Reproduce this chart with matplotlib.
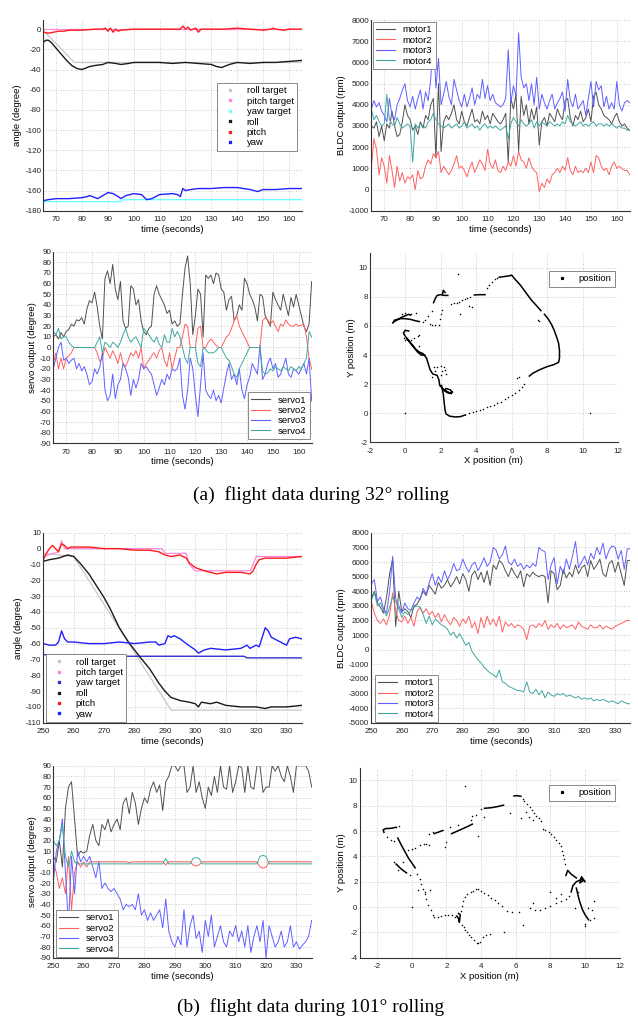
import numpy as np
import matplotlib
matplotlib.use("Agg")
from matplotlib import pyplot as plt
from matplotlib.lines import Line2D

plt.rcParams['font.family'] = ['Liberation Sans', 'DejaVu Sans']
plt.rcParams['axes.unicode_minus'] = False
nan = np.nan

#============== (a) 32 deg rolling ==============
# angle (degree)
roll_a_t = [65, 66, 67, 68, 70, 72, 74, 76, 78, 80, 81, 83, 85, 88, 90, 93, 95, 98, 100, 105,
            110, 115, 120, 125, 130, 132, 134, 135, 137, 140, 145, 150, 155, 160, 165]
roll_a = [-13, -11, -11, -13, -19, -25, -31, -36, -39, -40, -39, -37, -36, -35, -33, -34, -35, -34, -33, -33,
          -33, -34, -33, -34, -35, -37, -38, -37, -35, -33, -34, -33, -33, -32, -31]
roll_target_a_t = [65, 66, 77, 165]
roll_target_a = [-2, -4, -33, -33]
pitch_a_t = [65, 67, 69, 71, 73, 75, 78, 80, 85, 88, 89, 90, 91, 92, 93, 94, 95, 100, 105, 110,
             115, 118, 119, 120, 121, 122, 124, 125, 126, 130, 135, 140, 145, 150, 153, 154, 155, 158, 160, 165]
pitch_a = [-3, -4, -3, -2, -2, -1, -1, -1, 0, 0, 1, -2, 1, -3, 0, -2, -1, 0, 0, 0,
           0, 0, 3, 0, 2, -1, 1, -3, 0, 0, 0, 1, 0, -1, 0, 1, 0, -1, 0, 0]
pitch_target_a_t = [65, 165]
pitch_target_a = [0, 0]
yaw_a_t = [65, 67, 70, 75, 80, 82, 83, 85, 86, 88, 90, 92, 94, 95, 97, 100, 103, 105, 107, 110,
           115, 117, 118, 119, 120, 122, 125, 130, 135, 140, 145, 148, 150, 155, 160, 165]
yaw_a = [-170, -169, -168, -168, -167, -166, -165, -167, -168, -165, -162, -163, -166, -168, -165, -163, -164, -169, -168, -164,
         -163, -164, -166, -158, -160, -159, -158, -158, -157, -157, -159, -161, -159, -159, -158, -158]
yaw_target_a_t = [65, 95, 96, 165]
yaw_target_a = [-171, -171, -169, -169]

# BLDC output (rpm), one value per second 65..165
t_a = np.arange(65, 166)
motor1_a = [3000, 2900, 3200, 2500, 3000, 2300, 3100, 2900, 3700, 3000,
            2500, 2600, 3200, 4000, 3500, 3300, 2800, 3000, 2600, 3200,
            2900, 3500, 3300, 4000, 4300, 1500, 5000, 1800, 3200, 3500,
            3300, 3600, 4000, 3300, 3100, 3700, 3200, 3000, 3400, 3800,
            3200, 3300, 3100, 3700, 3300, 3500, 3100, 3600, 3400, 3200,
            3100, 3300, 3600, 1300, 4300, 3800, 4500, 1800, 4400, 3500,
            4000, 3100, 3800, 3300, 3900, 2100, 3200, 3400, 3000, 3600,
            3400, 3200, 3800, 3500, 3300, 4200, 4300, 3400, 3000, 3500,
            3300, 3700, 3200, 3400, 3800, 3200, 4400, 4600, 4000, 3800,
            3500, 3400, 3300, 3100, 3400, 3600, 3200, 3000, 3100, 2900,
            2800]
motor2_a = [1000, 2400, 1900, 700, 1500, 1100, 300, 1600, 900, 100,
            1100, 400, 800, 300, 600, 500, 700, 0, 900, 500,
            600, 1100, 1400, 1200, 1700, 1500, 1800, 800, 1100, 900,
            700, 900, 1200, 1600, 1000, 1100, 900, 600, 1000, 1300,
            800, 1100, 1400, 1200, 900, 1900, 1200, 1000, 1400, 900,
            800, 1100, 900, 1300, 1100, 1600, 1100, 1800, 1400, 1300,
            1000, 1500, 1100, 900, 800, -100, 300, 100, 500, 300,
            700, 800, 1000, 800, 1100, 900, 1500, 900, 700, 1100,
            800, 900, 800, 1000, 800, 1300, 800, 1600, 1500, 1100,
            900, 1000, 700, 1100, 1300, 1000, 1100, 1000, 900, 900,
            700]
motor3_a = [3800, 4200, 3900, 4100, 3700, 3500, 3200, 4300, 3500, 3300,
            4000, 4300, 4700, 5000, 4200, 3900, 4400, 3800, 4300, 4700,
            3800, 4600, 4200, 5200, 7400, 4800, 6200, 4000, 4500, 5100,
            4400, 4000, 5200, 4700, 4200, 3900, 4500, 3900, 4300, 4800,
            4000, 4500, 4300, 5200, 4300, 4900, 4200, 4500, 4100, 4000,
            3900, 4000, 4300, 6600, 4100, 4900, 4400, 7400, 5300, 4800,
            5000, 4200, 5000, 4000, 5300, 3800, 4500, 4100, 3800, 4200,
            4500, 3800, 4100, 4300, 4600, 3700, 5200, 4200, 3900, 4500,
            3800, 4000, 4200, 3500, 4300, 5100, 3900, 5100, 4700, 4900,
            3900, 4400, 3800, 4100, 3800, 5100, 4000, 3700, 4100, 4200,
            4100]
motor4_a = [3800, 3300, 3500, 3200, 3000, 3100, 4500, 3300, 3100, 3000,
            3400, 3100, 2900, 3000, 3100, 3000, 1300, 3100, 2900, 3100,
            3000, 2900, 3200, 3300, 3600, 3300, 3100, 3000, 2900, 3000,
            3100, 2900, 3000, 3100, 2900, 3000, 3200, 2900, 3000, 3100,
            2900, 3000, 2800, 3000, 3100, 2900, 3000, 2900, 3000, 2900,
            2800, 2900, 3000, 2400, 3100, 3400, 3200, 3000, 3300, 3100,
            3000, 3100, 3300, 2900, 3200, 3000, 3200, 3100, 3000, 3200,
            3100, 3000, 3100, 3000, 3200, 3100, 3500, 3200, 3100, 3000,
            3100, 3200, 3000, 3100, 3000, 3100, 3200, 3000, 3100, 3100,
            3000, 3100, 3000, 3100, 3000, 2900, 3000, 2900, 2900, 2800,
            2800]

# servo output (degree)
servo1_a = [10, 12, 8, 14, 10, 15, 17, 22, 20, 26,
            25, 28, 22, 36, 44, 42, 52, 38, 20, 8,
            65, 72, 60, 78, 55, 45, 62, 25, 18, 20,
            58, 55, 40, 45, 25, 15, 12, 18, 20, 50,
            58, 50, 45, 40, 32, 35, 22, 25, 20, 22,
            50, 75, 86, 60, 12, 30, 55, 50, 10, 68,
            65, 68, 60, 70, 68, 55, 52, 35, 45, 48,
            25, 30, 40, 35, 65, 60, 50, 45, 38, 25,
            50, 48, 30, 25, 20, 52, 45, 40, 35, 50,
            40, 30, 47, 38, 50, 40, 30, 20, 15, 22,
            62]
servo2_a = [-15, -5, -20, -10, -20, -10, -8, -5, 0, 0,
            0, 0, 0, 0, 0, 0, 0, -5, -13, -10,
            0, -5, -10, -3, -8, -15, -5, -15, -18, -12,
            -5, -8, -3, -10, 0, -20, -15, -12, -8, -5,
            -10, -3, 0, -12, -18, -5, -20, -10, 0, 0,
            10, 22, 20, 0, 0, 0, 18, 20, 0, 0,
            5, 8, 5, 2, 0, 0, 5, 10, 12, 18,
            25, 30, 20, 15, 10, 5, 0, 0, 0, 0,
            0, 25, 28, 26, 22, 25, 20, 15, 22, 20,
            26, 22, 20, 20, 22, 20, 21, 22, 10, -10,
            -20]
servo3_a = [-20, -10, 0, 5, -12, -10, -15, -12, -10, -20,
            -15, -22, -18, -25, -35, -32, -20, -25, -18, -5,
            -40, -50, -45, -25, -48, -35, -30, -15, -20, -28,
            -45, -30, -38, -30, -15, -20, -18, -22, -25, -35,
            -45, -38, -30, -35, -25, -30, -20, -22, -20, -10,
            -45, -58, -40, -10, -20, -45, -65, -35, -5, -40,
            -45, -48, -40, -50, -45, -52, -38, -25, -15, -30,
            -25, -35, -20, -40, -48, -35, -28, -15, -20, -25,
            2, -30, -25, -15, -10, -20, -15, -28, -25, -18,
            -10, -25, -28, -20, -22, -25, -20, -15, -25, -10,
            -50]
servo4_a = [15, 12, 18, 8, 10, 10, 5, 2, 0, 0,
            0, 0, 0, 0, 0, 0, 0, 5, 10, -5,
            5, 3, 0, 5, 3, 0, 5, 12, 18, 10,
            5, 8, 10, 5, 0, 18, 15, 12, 8, 5,
            10, 3, 0, 12, 5, 5, 18, 10, 15, 10,
            0, -10, -15, 0, 0, 0, -15, -18, 0, -2,
            -5, -5, -5, -3, 0, 0, -5, -10, -12, -18,
            -25, -28, -20, -15, -10, -5, 0, 0, 0, 0,
            0, -22, -25, -24, -20, -22, -18, -20, -22, -18,
            -20, -22, -18, -20, -22, -18, -20, -15, -10, 15,
            10]

# position (m): dense tracks (nan = gap) and single points
track_a_x = [2.05, 2.15, 2.2, 2.25, 2.3, 2.5, 2.8, 3.1, 3.4, nan,
             7.0, 7.2, 7.6, 8.0, 8.4, 8.65, 8.7, 8.7, 8.65, 8.55, 8.4, 8.25, 8.05, 7.85, nan,
             7.65, 7.4, 7.1, 6.8, 6.5, 6.2, 6.0, 5.9, 5.6, 5.3, nan,
             2.65, 2.5, 2.2, 1.95, 1.9, 1.8, 1.55, 1.4, 1.3, 1.2, 1.0, 0.8, 0.6, 0.4, 0.2, 0.0, -0.1, 0.0, 0.2, nan,
             1.1, 0.9, 0.7, 0.5, 0.3, 0.1, nan,
             -0.7, -0.6, -0.3, 0.0, 0.3, 0.6, 0.8, nan,
             -0.6, -0.2, 0.2, 0.3, nan,
             1.6, 1.7, 1.8, 2.0, 2.2, 2.4, nan,
             2.1, 2.15, 2.25, nan,
             3.9, 4.2, 4.5, nan,
             2.6, 2.4, 2.2, 2.3, 2.55, 2.65]
track_a_y = [1.9, 1.3, 0.7, 0.2, -0.05, -0.2, -0.26, -0.24, -0.12, nan,
             2.55, 2.75, 3.0, 3.2, 3.35, 3.5, 3.8, 4.3, 4.8, 5.2, 5.7, 6.1, 6.5, 6.8, nan,
             7.05, 7.4, 7.8, 8.3, 8.8, 9.2, 9.5, 9.45, 9.4, 9.35, nan,
             1.45, 1.4, 1.6, 1.9, 2.3, 2.6, 2.7, 3.0, 3.4, 3.8, 4.1, 4.2, 4.4, 4.7, 5.0, 5.3, 5.5, 5.7, 5.65, nan,
             4.0, 4.0, 4.2, 4.5, 4.8, 5.1, nan,
             6.2, 6.4, 6.5, 6.5, 6.45, 6.35, 6.3, nan,
             6.3, 6.6, 6.8, 6.75, nan,
             7.6, 7.9, 8.1, 8.15, 8.1, 8.1, nan,
             8.2, 8.45, 8.3, nan,
             8.13, 8.15, 8.15, nan,
             1.35, 1.4, 1.55, 1.7, 1.6, 1.45]
dots_a_x = [3.6, 3.8, 4.0, 4.2, 4.4, 4.6, 4.8, 5.0, 5.2, 5.4, 5.6, 5.8, 6.0, 6.2, 6.4, 6.6, 6.7, 6.3, 6.4,
            4.6, 4.75, 4.9, 5.05, 5.2,
            2.6, 2.75, 2.9, 3.05, 3.2, 3.35, 3.5, 3.65,
            3.0, 3.1, 3.6, 3.75, 7.5, 7.55, 0.0, 10.4, 1.4, 1.5, 1.7, 1.9, 1.95, 2.0, 2.05, 1.5, 1.3, 1.1, 1.0,
            0.7, 0.5, 0.8, 0.3, 0.0, -0.05, 1.6, 1.8, 2.0, 2.2, 2.25, 2.0, 2.05, 1.7, 2.3, 1.5, 0.8, 0.6, 0.3, 0.0, -0.2]
dots_a_y = [0.02, 0.06, 0.12, 0.2, 0.3, 0.42, 0.5, 0.58, 0.7, 0.8, 0.95, 1.1, 1.25, 1.4, 1.6, 1.8, 2.0, 2.4, 2.5,
            8.6, 8.8, 9.0, 9.2, 9.3,
            7.5, 7.55, 7.6, 7.68, 7.75, 7.82, 7.9, 7.97,
            9.6, 6.8, 7.35, 7.3, 6.4, 6.35, 0.0, 0.0, 6.1, 6.05, 6.05, 6.05, 6.5, 6.8, 7.1, 7.0, 6.7, 6.4, 6.25,
            5.3, 5.2, 5.35, 5.0, 5.0, 5.2, 3.2, 3.2, 3.25, 3.2, 3.0, 2.6, 2.9, 2.9, 2.7, 2.5, 4.6, 6.9, 6.8, 6.9, 6.8]

#============== (b) 101 deg rolling ==============
roll_b_t = [250, 252, 255, 258, 260, 262, 265, 268, 270, 272, 275, 278, 280, 282, 285, 288,
            290, 292, 295, 298, 300, 301, 302, 305, 307, 310, 315, 320, 323, 325, 330, 335]
roll_b = [-8, -7, -6, -4, -5, -9, -16, -25, -31, -38, -50, -59, -64, -69, -76, -85,
          -90, -94, -96, -97, -98, -100, -97, -98, -97, -99, -100, -100, -101, -100, -100, -99]
roll_target_b_t = [250, 260, 292, 335]
roll_target_b = [-3, -5, -102, -102]
pitch_b_t = [250, 251, 252, 253, 254, 255, 256, 257, 258, 259, 260, 265, 270, 275, 280, 285, 288, 290,
             292, 295, 297, 298, 300, 303, 305, 307, 310, 315, 318, 319, 320, 321, 323, 325, 330, 335]
pitch_b = [-7, -3, 0, 2, 0, -2, 3, 2, 0, 1, 1, 1, 0, 0, -1, -1, -2, -4,
           -5, -4, -6, -9, -12, -14, -15, -16, -15, -15, -16, -14, -10, -7, -6, -6, -6, -5]
pitch_target_b_t = [250, 255, 256, 257, 258, 289, 290, 297, 298, 300, 318, 319, 320, 335]
pitch_target_b = [-5, -2, 5, 0, 0, 0, -3, -3, -10, -14, -14, -10, -5, -5]
yaw_b_t = [250, 252, 254, 255, 256, 257, 258, 260, 265, 270, 275, 280, 285, 287, 288, 290, 291, 292, 293, 295,
           297, 300, 301, 303, 305, 310, 315, 317, 318, 320, 321, 322, 323, 324, 325, 327, 329, 330, 331, 333, 335]
yaw_b = [-60, -61, -61, -59, -52, -57, -59, -59, -60, -60, -59, -60, -59, -59, -61, -60, -55, -56, -55, -57,
         -60, -64, -66, -64, -63, -64, -63, -61, -63, -61, -62, -56, -50, -52, -56, -58, -60, -61, -57, -56, -57]
yaw_target_b_t = [250, 276, 277, 316, 317, 335]
yaw_target_b = [-67, -67, -68, -68, -69, -69]

t_b = np.arange(250, 336)
motor1_b = [3500, 4000, 3200, 2900, 2500, 3600, 5200, 6200, 1600, 4000,
            2600, 2800, 2600, 2200, 3000, 3100, 3500, 4000, 3700, 4400,
            4100, 3800, 4600, 4200, 4400, 4800, 4300, 4600, 5000, 4500,
            5200, 4800, 4000, 5100, 5400, 4800, 5300, 4600, 5400, 4400,
            5800, 5500, 6100, 5900, 5400, 5000, 5600, 5200, 4900, 5400,
            4300, 5200, 5000, 5300, 5100, 5000, 5100, 5000, 3200, 5400,
            5200, 4100, 4400, 5500, 4900, 5300, 5000, 5800, 5200, 5600,
            5800, 5000, 6100, 5500, 5800, 6200, 5200, 5000, 5900, 6100,
            5300, 6000, 5200, 4400, 6100, 6100]
motor2_b = [3300, 2500, 2000, 1800, 2100, 1700, 2400, 3900, 2600, 2000,
            1900, 2300, 1800, 2200, 1600, 2600, 2900, 2500, 2800, 2400,
            2600, 2200, 2500, 1900, 2400, 2000, 1700, 2200, 2000, 1600,
            2100, 1800, 2300, 1500, 1900, 1100, 2200, 1500, 2300, 1700,
            2100, 1600, 2300, 1200, 1900, 1600, 1800, 1500, 1700, 1600,
            1400, 700, 1600, 1700, 1500, 1800, 1600, 2000, 1400, 1700,
            1500, 1800, 1400, 1700, 1500, 1600, 1700, 1400, 1900, 1600,
            1500, 1400, 1700, 1500, 1500, 1700, 1400, 1600, 1500, 1400,
            1600, 1700, 1800, 1900, 2000, 2000]
motor3_b = [4500, 4800, 3300, 3600, 2800, 2500, 4000, 6400, 3500, 3000,
            2500, 3200, 2800, 2700, 3200, 3600, 3400, 4200, 3800, 4600,
            5200, 4400, 5000, 4600, 5400, 4800, 5200, 5900, 5400, 5500,
            6200, 5700, 5300, 5800, 6000, 5400, 5800, 6300, 5700, 6000,
            7000, 6800, 6200, 6500, 7100, 6000, 5800, 6200, 5700, 5900,
            5500, 5800, 5600, 5900, 5700, 7000, 6800, 6700, 4800, 5800,
            6300, 4500, 5700, 5200, 6200, 5500, 6400, 7400, 5600, 6000,
            6400, 5800, 6600, 6200, 7000, 6500, 7300, 6200, 6800, 7100,
            7000, 6200, 6800, 5500, 6900, 6900]
motor4_b = [3400, 3900, 3000, 3200, 2700, 2300, 2900, 3600, 3300, 2800,
            2200, 2600, 2400, 2700, 2900, 3000, 2900, 2400, 1800, 2300,
            1700, 2100, 1900, 1700, 1600, 1400, 1000, 1200, 800, 1100,
            700, 300, 500, -100, -400, -700, -900, -1200, -1400, -1600,
            -1700, -1900, -1400, -2200, -2300, -2500, -2600, -2700, -2800, -2800,
            -2900, -2200, -2900, -3000, -2700, -3100, -2800, -3300, -2900, -3100,
            -3200, -3000, -3100, -3000, -3200, -3100, -3200, -3300, -3200, -3400,
            -3300, -3400, -3300, -3500, -3400, -3500, -3400, -3500, -3600, -3500,
            -3600, -3700, -3500, -3600, -3700, -3700]

servo1_b = [5, 0, 20, -5, 50, 70, 75, 40, 5, 10,
            8, 10, 25, 35, 20, 15, 35, 30, 40, 28,
            35, 40, 30, 55, 60, 45, 65, 55, 35, 50,
            60, 55, 68, 75, 65, 72, 48, 75, 80, 90,
            90, 85, 90, 90, 65, 70, 90, 65, 75, 60,
            50, 70, 62, 80, 65, 90, 70, 68, 90, 65,
            75, 90, 88, 65, 90, 70, 68, 90, 90, 65,
            70, 70, 90, 85, 90, 80, 75, 90, 80, 65,
            90, 90, 90, 90, 85, 70]
servo2_b = [0, -10, -25, -15, -30, 5, -45, -10, 0, -5,
            0, -5, 0, 0, 0, 0, 0, 0, 0, 0,
            0, 0, 0, 0, 0, -1, 0, 0, 0, 0,
            0, 0, 0, 0, 0, 0, 0, -3, 0, 0,
            0, 0, 0, 0, 0, 0, -3, -4, -3, 0,
            0, 0, 0, 0, 0, 0, 0, 0, 0, 0,
            0, 0, 0, 0, 0, 0, 0, 0, -5, -6,
            -5, 0, 0, 0, 0, 0, 0, 0, 0, 0,
            0, 0, 0, 0, 0, 0]
servo3_b = [-20, 10, 20, 40, -10, -60, 5, -30, 10, 0,
            5, 0, 5, -5, -15, 0, -25, -20, -25, -28,
            -25, -30, -35, -45, -40, -42, -40, -45, -30, -50,
            -45, -55, -48, -55, -50, -45, -62, -35, -65, -75,
            -80, -70, -78, -45, -80, -60, -50, -72, -65, -85,
            -55, -70, -50, -80, -70, -60, -75, -80, -65, -70,
            -60, -75, -65, -80, -60, -85, -70, -60, -75, -55,
            -90, -60, -70, -80, -75, -65, -80, -75, -60, -80,
            -75, -82, -78, -75, -70, -55]
servo4_b = [20, 15, 20, 35, 5, -5, 10, 0, -2, -2,
            -2, -2, -2, -2, -2, -2, -2, -2, -2, -2,
            -2, -2, -2, -2, -2, -2, -2, -2, -2, -2,
            -2, -2, -2, -2, -2, -2, -2, 3, -2, -2,
            -2, -2, -2, -2, -2, -2, 3, 4, 3, -2,
            -2, -2, -2, -2, -2, -2, -2, -2, -2, -2,
            -2, -2, -2, -2, -2, -2, -2, -2, 5, 6,
            5, -2, -2, -2, -2, -2, -2, -2, -2, -2,
            -2, -2, -2, -2, -2, -2]

track_b_x = [-1.6, -1.65, -1.5, -1.2, -0.9, nan,
             -0.8, -0.6, -0.4, -0.2, 0.0, 0.2, nan,
             4.2, 4.6, 5.0, 5.3, nan,
             5.9, 6.1, 6.3, nan,
             9.2, 9.3, 9.5, 9.8, 9.9, 9.7, 9.8, 10.0, nan,
             8.9, 9.0, 9.2, 9.5, nan,
             2.6, 2.7, 2.75, 2.8, 2.7, nan,
             9.5, 9.6, 9.7, 9.85, 10.0, 10.2, nan,
             2.3, 2.8, 3.2, 3.5, nan,
             1.3, 1.5, 1.8, nan,
             -0.9, -0.6, -0.3]
track_b_y = [5.9, 6.1, 6.2, 6.22, 6.3, nan,
             5.45, 4.9, 4.4, 3.9, 3.5, 3.1, nan,
             7.8, 7.85, 7.95, 8.05, nan,
             8.78, 8.8, 8.75, nan,
             1.2, 1.7, 2.0, 2.2, 2.1, 1.9, 2.4, 2.0, nan,
             2.5, 2.9, 2.6, 2.3, nan,
             -0.7, -0.9, -1.2, -0.6, -0.5, nan,
             1.5, 0.9, 0.4, -0.2, -0.6, -1.0, nan,
             5.8, 6.1, 6.35, 6.55, nan,
             5.8, 5.9, 6.05, nan,
             3.4, 3.0, 2.7]
dots_b_x = [0.3, 0.45, 0.55, 0.65, 0.75, 0.85, 0.95, 1.1, 1.2, 1.3, 1.5, 1.7, 1.9, 2.1, 2.3, 2.5,
            2.9, 3.0, 3.1, 3.2, 3.3, 3.45, 3.6, 3.75, 3.85, 3.95, 4.1, 4.3, 4.5,
            2.85, 2.9, 2.95, 3.05, 3.2, 3.4, 3.55, 3.7, 3.85, 4.0, 4.2, 4.4, 4.6, 4.8, 5.0, 5.2, 5.5, 5.8,
            6.2, 6.8, 7.1, 7.4, 7.7, 8.0, 8.3, 8.6, 8.9, 9.1,
            8.85, 8.8, 8.75, 8.7, 8.6, 8.5, 8.35, 8.2, 8.05, 7.9, 7.7, 7.6, 7.45, 7.35, 7.2, 7.05, 6.95,
            6.8, 6.65, 6.5, 6.4, 6.6, 6.75, 7.0, 5.7, 6.3,
            4.0, 3.7, 3.5, 3.4, 4.15, 3.85, 2.7, 2.2, 2.0, 1.9, 1.2, 1.0, 0.7, 0.5, 0.2, 0.0, -0.2, 0.8,
            1.0, -1.4, -1.2, -1.0, -0.9, -0.75,
            3.05, 0.0, 5.3, 6.4, 7.0, 8.0, 8.3, 8.6, -1.0, -0.8, -0.5, -0.1, 0.35, 0.75, 1.05,
            9.4, 10.4, 10.5, 10.2, 10.0, 10.0, 10.5, 10.3, 9.6]
dots_b_y = [2.6, 2.2, 1.8, 1.4, 1.0, 0.6, 0.2, -0.2, -0.6, -0.8, -0.78, -0.7, -0.65, -0.64, -0.66, -0.75,
            -1.4, -1.6, -1.8, -2.0, -2.2, -2.4, -2.6, -2.8, -2.85, -2.75, -2.4, -2.2, -2.1,
            -0.3, 0.1, 0.5, 0.8, 1.0, 1.2, 1.3, 1.4, 1.4, 1.3, 1.15, 0.95, 0.75, 0.55, 0.3, 0.1, -0.3, -0.4,
            -0.38, -0.05, -0.25, -0.2, -0.1, 0.1, 0.3, 0.45, 0.65, 0.9,
            3.4, 3.8, 4.1, 4.4, 4.8, 5.1, 5.3, 5.5, 5.75, 5.95, 6.1, 6.2, 6.8, 7.0, 7.2, 7.45, 7.65,
            7.9, 8.15, 8.4, 8.55, 7.5, 7.15, 6.9, 7.45, 7.0,
            7.75, 7.25, 7.2, 6.9, 7.1, 5.65, 6.45, 6.3, 5.15, 4.75, 5.95, 5.8, 5.0, 4.9, 4.7, 4.6, 4.5, 5.0,
            4.9, 5.5, 5.3, 5.2, 6.35, 6.4,
            9.6, 0.0, -1.95, -1.4, 0.3, 1.2, 0.7, 1.0, 3.6, 2.9, 3.6, 2.5, 1.35, 1.2, 1.35,
            -0.1, -0.2, 0.5, -0.1, -1.3, -1.5, -0.9, -1.0, 1.2]

#==============styles==============
C_ROLL = '#1a1a1a'
C_PITCH = '#ff1a1a'
C_YAW = '#2020ff'
C_ROLLT = '#c8c8c8'
C_PITCHT = '#ff88dd'
C_M1 = '#505050'
C_M2 = '#ff6060'
C_M3 = '#6060ff'
C_M4 = '#40a8a0'
TICK = 5.8
LAB = 6.8


def style(ax):
    ax.grid(True, color='#bdbdbd', linestyle=(0, (1, 2)), linewidth=0.6)
    ax.set_axisbelow(True)
    ax.spines['top'].set_visible(False)
    ax.spines['right'].set_visible(False)
    ax.spines['left'].set_color('#333333')
    ax.spines['bottom'].set_color('#333333')
    ax.tick_params(labelsize=TICK, length=0, colors='#222222')
    ax.tick_params(axis='y', pad=1.5)
    ax.tick_params(axis='x', pad=4)


def leg(ax, handles, labels, loc, anchor):
    lg = ax.legend(handles, labels, loc=loc, bbox_to_anchor=anchor, fontsize=LAB,
                   fancybox=False, framealpha=1, edgecolor='#888888',
                   borderpad=0.35, labelspacing=0.15, handletextpad=0.8, borderaxespad=0)
    lg.get_frame().set_linewidth(0.7)
    return lg


def dot(c):
    return Line2D([], [], linestyle='', marker='s', markersize=1.5, color=c)


def seg(c):
    return Line2D([], [], color=c, lw=0.8)


fig = plt.figure(figsize=(6.38, 10.24), dpi=100)

#==============angle panels==============
def angle_panel(rect, data, xlim, ylim, yticks, loc, anchor, yawt_c):
    ax = fig.add_axes(rect)
    style(ax)
    (rt, r), (rtt, rtv), (pt, p), (ptt, ptv), (yt, y), (ytt, ytv) = data
    ax.plot(rtt, rtv, color=C_ROLLT, lw=0.9)
    ax.plot(ptt, ptv, color=C_PITCHT, lw=0.9)
    ax.plot(ytt, ytv, color=yawt_c, lw=1.0)
    ax.plot(rt, r, color=C_ROLL, lw=1.0)
    ax.plot(pt, p, color=C_PITCH, lw=1.0)
    ax.plot(yt, y, color=C_YAW, lw=1.0)
    ax.set_xlim(*xlim)
    ax.set_ylim(*ylim)
    ax.set_yticks(yticks)
    ax.set_ylabel('angle (degree)', fontsize=LAB, labelpad=2)
    ax.set_xlabel('time (seconds)', fontsize=LAB, labelpad=1)
    leg(ax, [dot(C_ROLLT), dot(C_PITCHT), dot(yawt_c), dot(C_ROLL), dot(C_PITCH), dot(C_YAW)],
        ['roll target', 'pitch target', 'yaw target', 'roll', 'pitch', 'yaw'], loc, anchor)
    return ax


ax1 = angle_panel([0.0679, 0.7942, 0.405, 0.1862],
                  [(roll_a_t, roll_a), (roll_target_a_t, roll_target_a), (pitch_a_t, pitch_a),
                   (pitch_target_a_t, pitch_target_a), (yaw_a_t, yaw_a), (yaw_target_a_t, yaw_target_a)],
                  (65, 165), (-180, 9), range(-180, 1, 20), 'upper right', (0.982, 0.67), '#70ffff')
ax1.set_xticks(range(70, 161, 10))

ax5 = angle_panel([0.0679, 0.2942, 0.405, 0.1855],
                  [(roll_b_t, roll_b), (roll_target_b_t, roll_target_b), (pitch_b_t, pitch_b),
                   (pitch_target_b_t, pitch_target_b), (yaw_b_t, yaw_b), (yaw_target_b_t, yaw_target_b)],
                  (250, 335), (-110, 10), range(-110, 11, 10), 'lower left', (0.01, 0.004), '#3030d0')
ax5.set_xticks(range(250, 331, 10))

#==============motor panels==============
def motor_panel(rect, t, m, xlim, ylim, yticks, xticks, loc, anchor):
    ax = fig.add_axes(rect)
    style(ax)
    cols = [C_M1, C_M2, C_M3, C_M4]
    for s, c in zip(m, cols):
        ax.plot(t, s, color=c, lw=0.7)
    ax.set_xlim(*xlim)
    ax.set_ylim(*ylim)
    ax.set_yticks(yticks)
    ax.set_xticks(xticks)
    ax.set_ylabel('BLDC output (rpm)', fontsize=LAB, labelpad=2)
    ax.set_xlabel('time (seconds)', fontsize=LAB, labelpad=1)
    leg(ax, [seg(c) for c in cols], ['motor1', 'motor2', 'motor3', 'motor4'], loc, anchor)
    return ax


motor_panel([0.582, 0.7942, 0.405, 0.1862], t_a, [motor1_a, motor2_a, motor3_a, motor4_a],
            (65, 165), (-1000, 8000), range(-1000, 8001, 1000), range(70, 161, 10),
            'upper left', (0.007, 0.99))
motor_panel([0.582, 0.2942, 0.406, 0.1855], t_b, [motor1_b, motor2_b, motor3_b, motor4_b],
            (250, 335), (-5000, 8000), range(-5000, 8001, 1000), range(250, 331, 10),
            'lower left', (0.014, 0.004))

#==============servo panels==============
def servo_panel(rect, t, s, xlim, xticks, loc, anchor):
    ax = fig.add_axes(rect)
    style(ax)
    cols = [C_M1, C_M2, C_M3, C_M4]
    for v, c in zip(s, cols):
        ax.plot(t, v, color=c, lw=0.7)
    ax.set_xlim(*xlim)
    ax.set_ylim(-90, 90)
    ax.set_yticks(range(-90, 91, 10))
    ax.set_xticks(xticks)
    ax.set_ylabel('servo output (degree)', fontsize=LAB, labelpad=2)
    ax.set_xlabel('time (seconds)', fontsize=LAB, labelpad=1)
    leg(ax, [seg(c) for c in cols], ['servo1', 'servo2', 'servo3', 'servo4'], loc, anchor)
    return ax


servo_panel([0.0835, 0.5671, 0.405, 0.1871], t_a, [servo1_a, servo2_a, servo3_a, servo4_a],
            (65, 165), range(70, 161, 10), 'lower right', (0.993, 0.022))
servo_panel([0.0835, 0.0647, 0.405, 0.1875], t_b, [servo1_b, servo2_b, servo3_b, servo4_b],
            (250, 335), range(250, 331, 10), 'lower left', (0.01, 0.004))

#==============position panels==============
def pos_panel(rect, tx, ty, dx, dy, xlim, ylim, yticks, anchor):
    ax = fig.add_axes(rect)
    style(ax)
    ax.plot(tx, ty, color='k', lw=1.1)
    ax.plot(dx, dy, linestyle='', marker='o', markersize=1.1, markeredgewidth=0, color='k')
    ax.set_xlim(*xlim)
    ax.set_ylim(*ylim)
    ax.set_yticks(yticks)
    ax.set_xticks(range(-2, 13, 2))
    ax.set_ylabel('Y position (m)', fontsize=LAB, labelpad=2)
    ax.set_xlabel('X position (m)', fontsize=LAB, labelpad=1)
    leg(ax, [Line2D([], [], linestyle='', marker='s', markersize=1.3, color='k')], ['position'],
        'upper right', anchor)
    return ax


pos_panel([0.5795, 0.5681, 0.3892, 0.1846], track_a_x, track_a_y, dots_a_x, dots_a_y,
          (-2, 12), (-2, 11), range(-2, 11, 2), (0.988, 0.906))
pos_panel([0.5638, 0.0647, 0.4075, 0.1855], track_b_x, track_b_y, dots_b_x, dots_b_y,
          (-3, 12), (-4, 11), range(-4, 11, 2), (0.982, 0.909))

#==============captions==============
fig.text(0.503, 0.517, '(a)  flight data during 32° rolling', ha='center', va='center',
         fontsize=14, family=['Liberation Serif', 'DejaVu Serif'])
fig.text(0.487, 0.0165, '(b)  flight data during 101° rolling', ha='center', va='center',
         fontsize=14, family=['Liberation Serif', 'DejaVu Serif'])

fig.savefig('out.png', dpi=100)
